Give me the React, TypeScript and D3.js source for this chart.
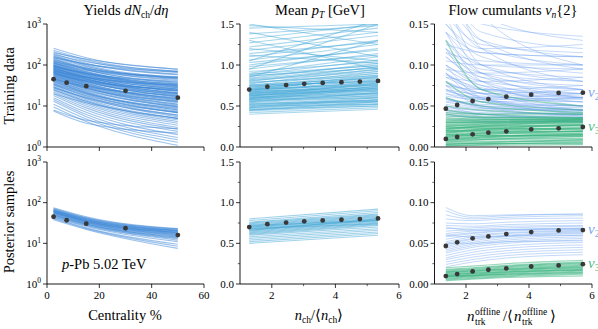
import React from "react";
import * as d3 from "d3";

// ---------- data ----------
const yieldX = [2.5, 7.5, 15, 30, 50];
const yieldData = [45, 37, 30.5, 23.5, 16];
const yieldLineX = [2.5, 15, 50];
const yieldTrain = [
  [255, 150, 80], [230, 135, 70], [210, 125, 66], [190, 110, 58], [175, 100, 50], [165, 95, 46],
  [155, 92, 48], [145, 84, 42], [140, 78, 36], [130, 76, 38], [125, 70, 33], [118, 66, 31],
  [112, 63, 30], [105, 60, 29], [100, 56, 26], [96, 52, 23], [92, 51, 24], [88, 48, 21],
  [84, 46, 20], [80, 44, 19], [76, 41, 17], [73, 40, 17.5], [70, 37, 15], [67, 36, 15],
  [64, 34, 14], [61, 32, 13], [58, 31, 12.5], [56, 29, 11], [53, 28, 11], [50, 26, 10],
  [48, 25, 9.5], [46, 23, 8.5], [44, 22, 8], [42, 21, 7.5], [40, 20, 7], [38, 19, 6.8],
  [36, 17.5, 6], [34, 16.5, 5.5], [32, 15, 5], [30, 14, 4.6], [28, 13, 4.2], [26, 12, 3.8],
  [24, 11, 3.4], [22, 10, 3], [20, 9, 2.7], [18, 8, 2.4], [16, 7, 2], [14.5, 6.2, 1.7],
  [13, 5.5, 1.5], [11, 4.8, 1.3], [9.5, 4.2, 1.1], [8, 4.5, 2.8], [7.5, 3.8, 2.2],
  [120, 80, 50], [90, 62, 40], [70, 50, 33], [150, 105, 68], [60, 40, 25], [45, 30, 18],
  [100, 60, 35], [85, 50, 28], [65, 38, 20], [55, 32, 16], [35, 20, 9], [200, 140, 78],
  [110, 75, 45], [75, 45, 24], [47, 27, 13], [28, 16, 7], [20, 12, 5],
  [115, 68, 34], [108, 64, 31], [98, 58, 28], [94, 55, 26], [86, 50, 23], [82, 47, 21],
  [78, 45, 20.5], [74, 42, 18.5], [68, 39, 16.5], [63, 35, 14.5], [59, 33, 13.5], [52, 29, 12],
  [49, 27, 10.5], [43, 24, 9.5], [39, 21, 8], [33, 18, 7], [29, 15.5, 6], [25, 13, 5],
  [135, 85, 48], [125, 82, 52], [95, 63, 38], [80, 52, 32], [66, 42, 26], [160, 105, 60],
  [180, 120, 70],
];
const yieldPost = [
  [75, 45, 23], [72, 43, 22.5], [70, 42, 22], [68, 41, 21], [66, 40, 20.5], [65, 39, 20],
  [64, 38, 19.5], [62, 37, 19], [61, 36, 18.5], [60, 36, 18], [58, 35, 17.5], [57, 34, 17],
  [56, 33, 16.5], [55, 33, 16], [54, 32, 15.5], [52, 31, 15], [51, 30, 14.5], [50, 30, 14],
  [48, 29, 13.5], [47, 28, 13], [45, 27, 12], [44, 26, 11], [42, 24, 9.5], [40, 23, 8.5],
  [38, 22, 7.5], [63, 38, 20.5], [59, 35, 18.2],
];

const ptX = [1.29, 1.86, 2.45, 3.02, 3.6, 4.19, 4.77, 5.34];
const ptData = [0.7, 0.735, 0.755, 0.77, 0.782, 0.79, 0.798, 0.806];
const ptLineX = [1.29, 5.34];
const ptTrain = [
  [0.4, 0.46], [0.42, 0.48], [0.44, 0.5], [0.45, 0.52], [0.47, 0.53], [0.48, 0.55], [0.5, 0.56],
  [0.51, 0.58], [0.52, 0.6], [0.54, 0.61], [0.55, 0.63], [0.56, 0.65], [0.58, 0.66], [0.59, 0.68],
  [0.6, 0.7], [0.61, 0.72], [0.62, 0.74], [0.63, 0.71], [0.64, 0.76], [0.65, 0.78], [0.66, 0.75],
  [0.67, 0.8], [0.68, 0.82], [0.69, 0.79], [0.7, 0.85], [0.71, 0.88], [0.72, 0.83], [0.73, 0.9],
  [0.74, 0.86], [0.75, 0.92], [0.77, 0.95], [0.78, 0.9], [0.8, 0.98], [0.82, 0.94], [0.84, 1.02],
  [0.86, 1.0], [0.88, 1.06], [0.9, 1.1], [0.92, 1.04], [0.95, 1.14], [0.98, 1.12], [1.0, 1.2],
  [1.03, 1.18], [1.06, 1.25], [1.1, 1.3], [1.14, 1.28], [1.18, 1.36], [1.22, 1.4], [1.27, 1.45],
  [1.32, 1.5], [1.38, 1.48], [1.45, 1.5], [1.4, 1.1], [1.5, 1.25], [1.3, 0.95], [1.2, 1.05],
  [0.95, 1.5], [1.05, 1.55], [0.85, 1.3], [0.58, 0.62], [0.53, 0.57], [0.66, 0.7], [0.6, 0.64],
  [0.49, 0.6], [0.57, 0.72], [0.63, 0.68], [0.7, 0.76], [0.76, 0.84], [0.45, 0.55], [0.5, 0.52],
  [1.48, 1.4], [1.12, 1.02],
  [0.46, 0.5], [0.48, 0.58], [0.52, 0.56], [0.55, 0.66], [0.57, 0.6], [0.59, 0.74], [0.61, 0.66],
  [0.62, 0.78], [0.64, 0.69], [0.65, 0.73], [0.67, 0.76], [0.68, 0.72], [0.69, 0.86], [0.71, 0.77],
  [0.73, 0.81], [0.75, 0.8], [0.79, 0.87], [0.81, 0.92], [0.83, 0.97], [0.87, 0.96], [0.89, 0.99],
];
const ptPost = [
  [0.8, 0.92], [0.78, 0.9], [0.76, 0.88], [0.75, 0.86], [0.74, 0.85], [0.73, 0.84], [0.72, 0.83],
  [0.71, 0.82], [0.7, 0.81], [0.7, 0.8], [0.69, 0.79], [0.68, 0.78], [0.67, 0.78], [0.66, 0.77],
  [0.65, 0.76], [0.64, 0.75], [0.63, 0.74], [0.62, 0.73], [0.61, 0.72], [0.6, 0.7], [0.58, 0.68],
  [0.56, 0.66], [0.54, 0.64], [0.52, 0.62], [0.5, 0.6], [0.72, 0.78], [0.68, 0.74], [0.66, 0.8],
];

const flowX = [1.36, 1.72, 2.21, 2.71, 3.28, 4.07, 4.94, 5.71];
const v2Data = [0.0467, 0.0512, 0.0561, 0.0585, 0.0614, 0.0638, 0.0659, 0.0663];
const v3Data = [0.0098, 0.0122, 0.0154, 0.0175, 0.0191, 0.0215, 0.0228, 0.0244];
const flowTrainX = [1.36, 2.5, 5.71];
const v2Train = [
  [0.22, 0.16, 0.13], [0.2, 0.14, 0.12], [0.19, 0.15, 0.135], [0.18, 0.13, 0.11], [0.17, 0.12, 0.1],
  [0.16, 0.125, 0.115], [0.15, 0.11, 0.09], [0.15, 0.12, 0.125], [0.14, 0.1, 0.08], [0.14, 0.115, 0.11],
  [0.13, 0.1, 0.095], [0.13, 0.09, 0.07], [0.12, 0.095, 0.085], [0.12, 0.085, 0.065], [0.115, 0.09, 0.08],
  [0.11, 0.08, 0.06], [0.11, 0.085, 0.075], [0.1, 0.08, 0.07], [0.1, 0.075, 0.055], [0.095, 0.075, 0.065],
  [0.09, 0.07, 0.06], [0.09, 0.065, 0.05], [0.085, 0.07, 0.065], [0.08, 0.065, 0.055], [0.08, 0.06, 0.045],
  [0.075, 0.062, 0.058], [0.07, 0.058, 0.05], [0.07, 0.055, 0.042], [0.065, 0.055, 0.05], [0.06, 0.05, 0.045],
  [0.06, 0.048, 0.038], [0.055, 0.048, 0.044], [0.05, 0.044, 0.04], [0.05, 0.04, 0.034], [0.045, 0.04, 0.037],
  [0.04, 0.035, 0.032], [0.04, 0.036, 0.04], [0.035, 0.032, 0.03], [0.03, 0.03, 0.032], [0.075, 0.07, 0.075],
  [0.085, 0.08, 0.085], [0.095, 0.09, 0.095], [0.065, 0.06, 0.065], [0.055, 0.055, 0.06], [0.105, 0.1, 0.1],
  [0.115, 0.105, 0.1], [0.125, 0.115, 0.11], [0.2, 0.13, 0.095], [0.25, 0.16, 0.1], [0.18, 0.1, 0.07],
  [0.16, 0.09, 0.06], [0.22, 0.12, 0.08], [0.14, 0.08, 0.05], [0.12, 0.07, 0.045], [0.1, 0.06, 0.04],
  [0.09, 0.058, 0.045], [0.075, 0.05, 0.038], [0.07, 0.065, 0.07], [0.062, 0.058, 0.06], [0.058, 0.052, 0.05],
  [0.048, 0.045, 0.045], [0.044, 0.04, 0.043],
  [0.068, 0.06, 0.055], [0.058, 0.05, 0.048], [0.052, 0.047, 0.046], [0.046, 0.042, 0.04],
  [0.042, 0.038, 0.036], [0.038, 0.036, 0.035], [0.078, 0.066, 0.06], [0.088, 0.072, 0.062],
];
const v3Train = [
  [0.002, 0.002, 0.003], [0.004, 0.004, 0.005], [0.005, 0.006, 0.007], [0.007, 0.007, 0.008],
  [0.008, 0.009, 0.01], [0.01, 0.01, 0.011], [0.011, 0.012, 0.013], [0.012, 0.013, 0.015],
  [0.014, 0.014, 0.015], [0.015, 0.016, 0.017], [0.016, 0.017, 0.019], [0.018, 0.018, 0.02],
  [0.019, 0.02, 0.022], [0.02, 0.021, 0.023], [0.022, 0.022, 0.024], [0.023, 0.024, 0.026],
  [0.024, 0.025, 0.027], [0.026, 0.026, 0.028], [0.027, 0.028, 0.029], [0.028, 0.029, 0.031],
  [0.03, 0.03, 0.032], [0.031, 0.031, 0.033], [0.032, 0.033, 0.034], [0.034, 0.034, 0.035],
  [0.003, 0.005, 0.009], [0.006, 0.009, 0.013], [0.009, 0.012, 0.017], [0.013, 0.017, 0.022],
  [0.017, 0.021, 0.026], [0.021, 0.025, 0.03], [0.025, 0.028, 0.033], [0.029, 0.031, 0.034],
  [0.033, 0.032, 0.031], [0.036, 0.034, 0.033], [0.04, 0.037, 0.035], [0.045, 0.04, 0.036],
  [0.05, 0.045, 0.04], [0.06, 0.05, 0.042], [0.08, 0.055, 0.045],
  [0.13, 0.07, 0.05], [0.038, 0.036, 0.036], [0.042, 0.04, 0.04],
  [0.001, 0.003, 0.006], [0.003, 0.004, 0.004], [0.015, 0.014, 0.014],
  [0.02, 0.019, 0.019], [0.025, 0.023, 0.022], [0.008, 0.011, 0.015], [0.012, 0.015, 0.019],
  [0.018, 0.022, 0.027], [0.022, 0.026, 0.031],
];
const flowPostX = [1.36, 2.2, 3.3, 5.71];
const v2Post = [
  [0.09, 0.082, 0.084, 0.086], [0.085, 0.08, 0.082, 0.084], [0.08, 0.078, 0.08, 0.081],
  [0.075, 0.074, 0.076, 0.078], [0.072, 0.071, 0.073, 0.075], [0.068, 0.069, 0.071, 0.072],
  [0.065, 0.067, 0.069, 0.071], [0.062, 0.065, 0.067, 0.069], [0.06, 0.063, 0.066, 0.068],
  [0.058, 0.062, 0.065, 0.067], [0.055, 0.06, 0.063, 0.066], [0.052, 0.058, 0.062, 0.065],
  [0.05, 0.056, 0.06, 0.064], [0.048, 0.055, 0.059, 0.063], [0.046, 0.053, 0.058, 0.062],
  [0.044, 0.051, 0.056, 0.06], [0.042, 0.049, 0.054, 0.058], [0.04, 0.047, 0.052, 0.056],
  [0.038, 0.045, 0.05, 0.054], [0.035, 0.042, 0.047, 0.051], [0.032, 0.039, 0.044, 0.048],
  [0.03, 0.036, 0.041, 0.045], [0.027, 0.033, 0.038, 0.042], [0.024, 0.03, 0.035, 0.039],
  [0.021, 0.027, 0.032, 0.036], [0.06, 0.058, 0.059, 0.06], [0.07, 0.066, 0.067, 0.068],
  [0.05, 0.05, 0.052, 0.053], [0.094, 0.084, 0.085, 0.086],
];
const v3Post = [
  [0.02, 0.022, 0.025, 0.029], [0.018, 0.02, 0.023, 0.027], [0.017, 0.019, 0.022, 0.026],
  [0.016, 0.018, 0.021, 0.025], [0.015, 0.017, 0.02, 0.024], [0.014, 0.016, 0.019, 0.023],
  [0.013, 0.015, 0.018, 0.022], [0.012, 0.014, 0.017, 0.021], [0.011, 0.013, 0.016, 0.02],
  [0.01, 0.012, 0.015, 0.019], [0.009, 0.011, 0.014, 0.018], [0.009, 0.01, 0.013, 0.017],
  [0.008, 0.01, 0.012, 0.016], [0.007, 0.009, 0.011, 0.015], [0.006, 0.008, 0.01, 0.013],
  [0.005, 0.007, 0.009, 0.012], [0.004, 0.006, 0.008, 0.01], [0.012, 0.013, 0.015, 0.017],
  [0.015, 0.016, 0.018, 0.02], [0.01, 0.011, 0.012, 0.014],
];

const yieldTicks = [1, 10, 100, 1000];
const centTicks = [0, 20, 40, 60];
const multTicks = [2, 4, 6];
const multMinor = [3, 5];
const ptTicks = [0, 0.5, 1.0, 1.5];
const ptMinor = [0.25, 0.75, 1.25];
const flowTicks = [0, 0.05, 0.1, 0.15];
const flowMinor = [0.025, 0.075, 0.125];

// ---------- style ----------
const FONT = "Liberation Serif, Times New Roman, serif";
const C_YIELD = "#3a86d8";
const C_PT = "#40a6d6";
const C_V2 = "#6a9ff0";
const C_V3 = "#33b27c";
const C_DOT = "#383838";

const COLS = [
  { x0: 47, x1: 204 },
  { x0: 240, x1: 399 },
  { x0: 434.5, x1: 592 },
];
const ROWS = [
  { y0: 24, y1: 147 },
  { y0: 162, y1: 284 },
];

type LineSet = { xs: number[]; lines: number[][]; color: string; opacity: number; width: number };

function Panel(props: {
  id: string;
  col: number;
  row: number;
  xDomain: [number, number];
  yDomain: [number, number];
  log?: boolean;
  sets: LineSet[];
  dots: { xs: number[]; ys: number[] }[];
  xTicks: number[];
  xMinor: number[];
  yTicks: number[];
  yMinor: number[];
  yFmt: (v: number) => React.ReactNode;
  labelX: boolean;
}) {
  const { x0, x1 } = COLS[props.col];
  const { y0, y1 } = ROWS[props.row];
  const xs = d3.scaleLinear().domain(props.xDomain).range([x0, x1]);
  const ys = props.log
    ? d3.scaleLog().domain(props.yDomain).range([y1, y0])
    : d3.scaleLinear().domain(props.yDomain).range([y1, y0]);
  const line = d3
    .line<[number, number]>()
    .x((d) => xs(d[0]))
    .y((d) => ys(d[1]))
    .curve(d3.curveMonotoneX);
  return (
    <g>
      <defs>
        <clipPath id={props.id}>
          <rect x={x0} y={y0} width={x1 - x0} height={y1 - y0} />
        </clipPath>
      </defs>
      <g clipPath={`url(#${props.id})`}>
        {props.sets.map((s, si) =>
          s.lines.map((l, li) => (
            <path
              key={`${si}-${li}`}
              d={line(l.map((v, i) => [s.xs[i], v] as [number, number])) || ""}
              fill="none"
              stroke={s.color}
              strokeOpacity={s.opacity}
              strokeWidth={s.width}
            />
          ))
        )}
      </g>
      {props.dots.map((dset, di) =>
        dset.xs.map((x, i) => (
          <circle key={`d${di}-${i}`} cx={xs(x)} cy={ys(dset.ys[i])} r={2.4} fill={C_DOT} />
        ))
      )}
      <line x1={x0} x2={x0} y1={y0} y2={y1} stroke="#000" strokeWidth={0.9} />
      <line x1={x0} x2={x1} y1={y1} y2={y1} stroke="#000" strokeWidth={0.9} />
      {props.yTicks.map((t) => (
        <g key={`yt${t}`}>
          <line x1={x0 - 4} x2={x0} y1={ys(t)} y2={ys(t)} stroke="#000" strokeWidth={0.8} />
          <text x={x0 - 6} y={ys(t) + 3.8} textAnchor="end" fontSize={11} fontFamily={FONT}>
            {props.yFmt(t)}
          </text>
        </g>
      ))}
      {props.yMinor.map((t) => (
        <line key={`ym${t}`} x1={x0 - 2.2} x2={x0} y1={ys(t)} y2={ys(t)} stroke="#000" strokeWidth={0.6} />
      ))}
      {props.xTicks.map((t) => (
        <g key={`xt${t}`}>
          <line x1={xs(t)} x2={xs(t)} y1={y1} y2={y1 + 4} stroke="#000" strokeWidth={0.8} />
          {props.labelX && (
            <text x={xs(t)} y={y1 + 15} textAnchor="middle" fontSize={11} fontFamily={FONT}>
              {String(t)}
            </text>
          )}
        </g>
      ))}
      {props.xMinor.map((t) => (
        <line key={`xm${t}`} x1={xs(t)} x2={xs(t)} y1={y1} y2={y1 + 2.2} stroke="#000" strokeWidth={0.6} />
      ))}
    </g>
  );
}

const logFmt = (v: number) => (
  <>
    10
    <tspan dy={-4.5} fontSize={7.5}>
      {Math.round(Math.log10(v))}
    </tspan>
  </>
);
const ptFmt = (v: number) => v.toFixed(1);
const flowFmt = (v: number) => v.toFixed(2);

function VLabel({ n, y, color }: { n: string; y: number; color: string }) {
  return (
    <text x={588} y={y + 4} fontSize={15} fontFamily={FONT} fill={color}>
      <tspan fontStyle="italic">v</tspan>
      <tspan dy={3} fontSize={10}>
        {n}
      </tspan>
    </text>
  );
}

function NTrk({ x, y }: { x: number; y: number }) {
  return (
    <g fontFamily={FONT}>
      <text x={x} y={y} fontSize={15} fontStyle="italic">n</text>
      <text x={x + 8} y={y - 6} fontSize={9.5}>offline</text>
      <text x={x + 8} y={y + 4} fontSize={9.5}>trk</text>
    </g>
  );
}

export default function App() {
  const flowY = (r: number) =>
    d3.scaleLinear().domain([0, 0.15]).range([ROWS[r].y1, ROWS[r].y0]);
  const rows = [0, 1];
  return (
    <svg
      width={598}
      height={329}
      style={{ position: "absolute", left: 0, top: 0, background: "#fff" }}
      fontFamily={FONT}
    >
      <rect width={598} height={329} fill="#fff" />
      {rows.map((r) => (
        <g key={r}>
          <Panel
            id={`c0r${r}`}
            col={0}
            row={r}
            xDomain={[0, 60]}
            yDomain={[1, 1000]}
            log
            sets={[
              {
                xs: yieldLineX,
                lines: r === 0 ? yieldTrain : yieldPost,
                color: C_YIELD,
                opacity: r === 0 ? 0.5 : 0.5,
                width: 1.1,
              },
            ]}
            dots={[{ xs: yieldX, ys: yieldData }]}
            xTicks={centTicks}
            xMinor={[]}
            yTicks={yieldTicks}
            yMinor={[]}
            yFmt={logFmt}
            labelX={r === 1}
          />
          <Panel
            id={`c1r${r}`}
            col={1}
            row={r}
            xDomain={[1, 6]}
            yDomain={[0, 1.5]}
            sets={[
              {
                xs: ptLineX,
                lines: r === 0 ? ptTrain : ptPost,
                color: C_PT,
                opacity: r === 0 ? 0.45 : 0.5,
                width: 1.1,
              },
            ]}
            dots={[{ xs: ptX, ys: ptData }]}
            xTicks={multTicks}
            xMinor={multMinor}
            yTicks={ptTicks}
            yMinor={ptMinor}
            yFmt={ptFmt}
            labelX={r === 1}
          />
          <Panel
            id={`c2r${r}`}
            col={2}
            row={r}
            xDomain={[1, 6]}
            yDomain={[0, 0.15]}
            sets={[
              {
                xs: r === 0 ? flowTrainX : flowPostX,
                lines: r === 0 ? v2Train : v2Post,
                color: C_V2,
                opacity: r === 0 ? 0.38 : 0.4,
                width: 1.0,
              },
              {
                xs: r === 0 ? flowTrainX : flowPostX,
                lines: r === 0 ? v3Train : v3Post,
                color: C_V3,
                opacity: r === 0 ? 0.5 : 0.5,
                width: 1.2,
              },
            ]}
            dots={[
              { xs: flowX, ys: v2Data },
              { xs: flowX, ys: v3Data },
            ]}
            xTicks={multTicks}
            xMinor={multMinor}
            yTicks={flowTicks}
            yMinor={flowMinor}
            yFmt={flowFmt}
            labelX={r === 1}
          />
          <VLabel n="2" y={flowY(r)(v2Data[v2Data.length - 1])} color="#7aa8f0" />
          <VLabel n="3" y={flowY(r)(v3Data[v3Data.length - 1])} color="#4cbf8a" />
        </g>
      ))}

      {/* column titles */}
      <text x={126} y={15} textAnchor="middle" fontSize={14.5}>
        Yields <tspan fontStyle="italic">dN</tspan>
        <tspan dy={3} fontSize={9.5}>ch</tspan>
        <tspan dy={-3}>/</tspan>
        <tspan fontStyle="italic">dη</tspan>
      </text>
      <text x={320} y={15} textAnchor="middle" fontSize={14.5}>
        Mean <tspan fontStyle="italic">p</tspan>
        <tspan dy={3} fontSize={9.5} fontStyle="italic">T</tspan>
        <tspan dy={-3}> [GeV]</tspan>
      </text>
      <text x={513} y={15} textAnchor="middle" fontSize={14.5}>
        Flow cumulants <tspan fontStyle="italic">v</tspan>
        <tspan dy={3} fontSize={9.5} fontStyle="italic">n</tspan>
        <tspan dy={-3}>{"{2}"}</tspan>
      </text>

      {/* row labels */}
      <text transform="translate(14,86) rotate(-90)" textAnchor="middle" fontSize={14.5}>
        Training data
      </text>
      <text transform="translate(14,222) rotate(-90)" textAnchor="middle" fontSize={14.5}>
        Posterior samples
      </text>

      {/* x labels */}
      <text x={125} y={320} textAnchor="middle" fontSize={14.5}>
        Centrality %
      </text>
      <text x={319} y={320} textAnchor="middle" fontSize={14.5}>
        <tspan fontStyle="italic">n</tspan>
        <tspan dy={3} fontSize={9.5}>ch</tspan>
        <tspan dy={-3}>/⟨</tspan>
        <tspan fontStyle="italic">n</tspan>
        <tspan dy={3} fontSize={9.5}>ch</tspan>
        <tspan dy={-3}>⟩</tspan>
      </text>
      <NTrk x={467} y={321} />
      <text x={503} y={321} fontSize={15}>/⟨</text>
      <NTrk x={514} y={321} />
      <text x={550} y={321} fontSize={15}>⟩</text>

      {/* annotation */}
      <text x={62} y={269} fontSize={14.5}>
        <tspan fontStyle="italic">p</tspan>-Pb 5.02 TeV
      </text>
    </svg>
  );
}
